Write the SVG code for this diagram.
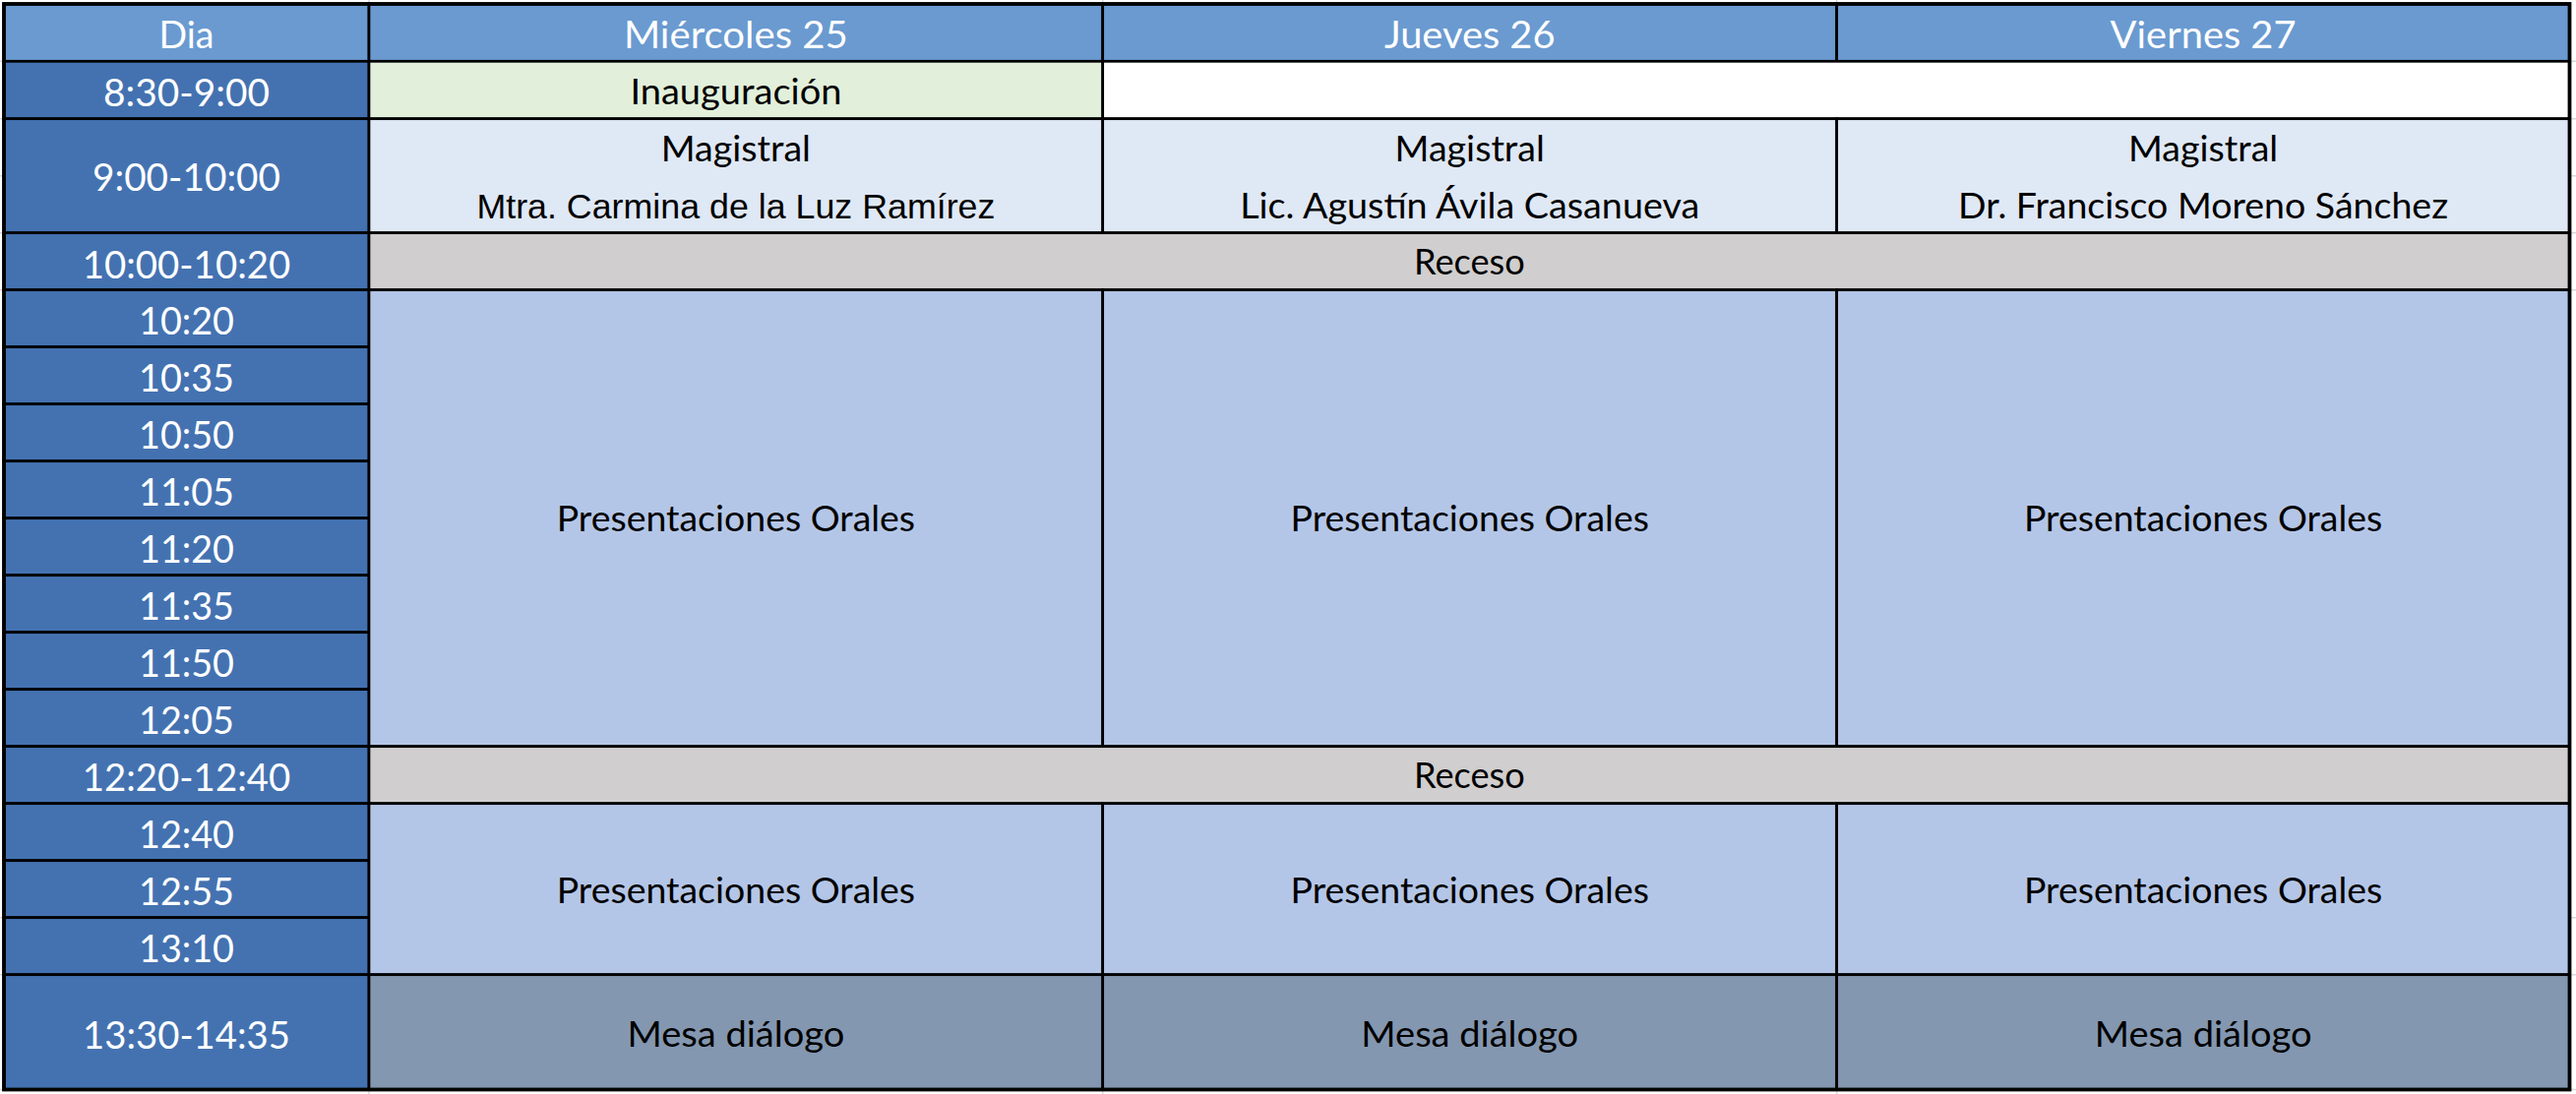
<svg xmlns="http://www.w3.org/2000/svg" width="2618" height="1112" viewBox="0 0 2618 1112">
<style>
.grid{stroke:#D9D9D9;stroke-width:1.5;fill:none}
.cell{stroke:#000;stroke-width:2.7}
.hd{fill:#6A9AD0}
.tm{fill:#4472B1}
.gr{fill:#E2EFDA}
.wh{fill:#FFFFFF}
.mg{fill:#DFE8F5}
.rc{fill:#D0CECE}
.pr{fill:#B4C6E7}
.ms{fill:#8497B0}
.tw{font-family:Lato,"Open Sans","Noto Sans",sans-serif;font-size:38.5px;fill:#FFFFFF;text-anchor:middle}
.tb{font-family:Lato,"Open Sans","Noto Sans",sans-serif;font-size:36px;fill:#000000;text-anchor:middle}
.ta{font-family:"Liberation Sans",Arial,sans-serif;font-size:34.5px;fill:#000000;text-anchor:middle}
</style>
<rect x="0" y="0" width="2618" height="1112" fill="#FFFFFF"/>
<g id="spreadsheet-gridlines" class="grid">
<path d="M0 62.3H2618M0 120.7H2618M0 178.7H2618M0 236.7H2618M0 294.7H2618M0 932.7H2618M0 990.7H2618M0 1107.5H2618M375 0V1112M1120.7 0V1112M1866.7 0V1112"/>
</g>
<g id="header">
<g id="h-dia"><rect class="cell hd" x="4" y="4" width="371" height="58.3"/><text class="tw" x="189.5" y="49.3" textLength="56" lengthAdjust="spacingAndGlyphs">Dia</text></g>
<g id="h-mie"><rect class="cell hd" x="375" y="4" width="745.7" height="58.3"/><text class="tw" x="747.9" y="49.3" textLength="228" lengthAdjust="spacingAndGlyphs">Miércoles 25</text></g>
<g id="h-jue"><rect class="cell hd" x="1120.7" y="4" width="746" height="58.3"/><text class="tw" x="1493.7" y="49.3" textLength="173.6" lengthAdjust="spacingAndGlyphs">Jueves 26</text></g>
<g id="h-vie"><rect class="cell hd" x="1866.7" y="4" width="744.8" height="58.3"/><text class="tw" x="2239.1" y="49.3" textLength="189" lengthAdjust="spacingAndGlyphs">Viernes 27</text></g>
</g>
<g id="times">
<g id="t-0830"><rect class="cell tm" x="4" y="62.3" width="371" height="58.4"/><text class="tw" x="189.5" y="108.3" textLength="169" lengthAdjust="spacingAndGlyphs">8:30-9:00</text></g>
<g id="t-0900"><rect class="cell tm" x="4" y="120.7" width="371" height="116"/><text class="tw" x="189.5" y="194" textLength="191" lengthAdjust="spacingAndGlyphs">9:00-10:00</text></g>
<g id="t-1000"><rect class="cell tm" x="4" y="236.7" width="371" height="58"/><text class="tw" x="189.5" y="282.7" textLength="211.6" lengthAdjust="spacingAndGlyphs">10:00-10:20</text></g>
<g id="t-1020"><rect class="cell tm" x="4" y="294.7" width="371" height="58"/><text class="tw" x="189.5" y="340" textLength="97" lengthAdjust="spacingAndGlyphs">10:20</text></g>
<g id="t-1035"><rect class="cell tm" x="4" y="352.7" width="371" height="58"/><text class="tw" x="189.5" y="398" textLength="97" lengthAdjust="spacingAndGlyphs">10:35</text></g>
<g id="t-1050"><rect class="cell tm" x="4" y="410.7" width="371" height="58"/><text class="tw" x="189.5" y="456" textLength="97" lengthAdjust="spacingAndGlyphs">10:50</text></g>
<g id="t-1105"><rect class="cell tm" x="4" y="468.7" width="371" height="58"/><text class="tw" x="189.5" y="514" textLength="97" lengthAdjust="spacingAndGlyphs">11:05</text></g>
<g id="t-1120"><rect class="cell tm" x="4" y="526.7" width="371" height="58"/><text class="tw" x="189.5" y="572" textLength="97" lengthAdjust="spacingAndGlyphs">11:20</text></g>
<g id="t-1135"><rect class="cell tm" x="4" y="584.7" width="371" height="58"/><text class="tw" x="189.5" y="630" textLength="97" lengthAdjust="spacingAndGlyphs">11:35</text></g>
<g id="t-1150"><rect class="cell tm" x="4" y="642.7" width="371" height="58"/><text class="tw" x="189.5" y="688" textLength="97" lengthAdjust="spacingAndGlyphs">11:50</text></g>
<g id="t-1205"><rect class="cell tm" x="4" y="700.7" width="371" height="58"/><text class="tw" x="189.5" y="746" textLength="97" lengthAdjust="spacingAndGlyphs">12:05</text></g>
<g id="t-1220"><rect class="cell tm" x="4" y="758.7" width="371" height="58"/><text class="tw" x="189.5" y="804" textLength="211.6" lengthAdjust="spacingAndGlyphs">12:20-12:40</text></g>
<g id="t-1240"><rect class="cell tm" x="4" y="816.7" width="371" height="58"/><text class="tw" x="189.5" y="862" textLength="97" lengthAdjust="spacingAndGlyphs">12:40</text></g>
<g id="t-1255"><rect class="cell tm" x="4" y="874.7" width="371" height="58"/><text class="tw" x="189.5" y="920" textLength="97" lengthAdjust="spacingAndGlyphs">12:55</text></g>
<g id="t-1310"><rect class="cell tm" x="4" y="932.7" width="371" height="58"/><text class="tw" x="189.5" y="978" textLength="97" lengthAdjust="spacingAndGlyphs">13:10</text></g>
<g id="t-1330"><rect class="cell tm" x="4" y="990.7" width="371" height="116.8"/><text class="tw" x="189.5" y="1066" textLength="211" lengthAdjust="spacingAndGlyphs">13:30-14:35</text></g>
</g>
<g id="row-0830">
<g id="inauguracion"><rect class="cell gr" x="375" y="62.3" width="745.7" height="58.4"/><text class="tb" x="747.9" y="106" textLength="215" lengthAdjust="spacingAndGlyphs">Inauguración</text></g>
<g id="blank-0830"><rect class="cell wh" x="1120.7" y="62.3" width="1490.8" height="58.4"/></g>
</g>
<g id="row-0900">
<g id="magistral-mie"><rect class="cell mg" x="375" y="120.7" width="745.7" height="116"/><text class="tb" x="747.9" y="164" textLength="152.2" lengthAdjust="spacingAndGlyphs">Magistral</text><text class="ta" x="747.9" y="221.7" textLength="527" lengthAdjust="spacingAndGlyphs">Mtra. Carmina de la Luz Ramírez</text></g>
<g id="magistral-jue"><rect class="cell mg" x="1120.7" y="120.7" width="746" height="116"/><text class="tb" x="1493.7" y="164" textLength="152.2" lengthAdjust="spacingAndGlyphs">Magistral</text><text class="tb" x="1493.7" y="221.7" textLength="467" lengthAdjust="spacingAndGlyphs">Lic. Agustín Ávila Casanueva</text></g>
<g id="magistral-vie"><rect class="cell mg" x="1866.7" y="120.7" width="744.8" height="116"/><text class="tb" x="2239.1" y="164" textLength="152.2" lengthAdjust="spacingAndGlyphs">Magistral</text><text class="tb" x="2239.1" y="221.7" textLength="498" lengthAdjust="spacingAndGlyphs">Dr. Francisco Moreno Sánchez</text></g>
</g>
<g id="receso-1"><rect class="cell rc" x="375" y="236.7" width="2236.5" height="58"/><text class="tb" x="1493.3" y="279.3" textLength="112.7" lengthAdjust="spacingAndGlyphs">Receso</text></g>
<g id="presentaciones-1">
<g id="pres1-mie"><rect class="cell pr" x="375" y="294.7" width="745.7" height="464"/><text class="tb" x="747.9" y="540" textLength="364.4" lengthAdjust="spacingAndGlyphs">Presentaciones Orales</text></g>
<g id="pres1-jue"><rect class="cell pr" x="1120.7" y="294.7" width="746" height="464"/><text class="tb" x="1493.7" y="540" textLength="364.4" lengthAdjust="spacingAndGlyphs">Presentaciones Orales</text></g>
<g id="pres1-vie"><rect class="cell pr" x="1866.7" y="294.7" width="744.8" height="464"/><text class="tb" x="2239.1" y="540" textLength="364.4" lengthAdjust="spacingAndGlyphs">Presentaciones Orales</text></g>
</g>
<g id="receso-2"><rect class="cell rc" x="375" y="758.7" width="2236.5" height="58"/><text class="tb" x="1493.3" y="801.3" textLength="112.7" lengthAdjust="spacingAndGlyphs">Receso</text></g>
<g id="presentaciones-2">
<g id="pres2-mie"><rect class="cell pr" x="375" y="816.7" width="745.7" height="174"/><text class="tb" x="747.9" y="918.3" textLength="364.4" lengthAdjust="spacingAndGlyphs">Presentaciones Orales</text></g>
<g id="pres2-jue"><rect class="cell pr" x="1120.7" y="816.7" width="746" height="174"/><text class="tb" x="1493.7" y="918.3" textLength="364.4" lengthAdjust="spacingAndGlyphs">Presentaciones Orales</text></g>
<g id="pres2-vie"><rect class="cell pr" x="1866.7" y="816.7" width="744.8" height="174"/><text class="tb" x="2239.1" y="918.3" textLength="364.4" lengthAdjust="spacingAndGlyphs">Presentaciones Orales</text></g>
</g>
<g id="mesa">
<g id="mesa-mie"><rect class="cell ms" x="375" y="990.7" width="745.7" height="116.8"/><text class="tb" x="747.9" y="1064" textLength="220.7" lengthAdjust="spacingAndGlyphs">Mesa diálogo</text></g>
<g id="mesa-jue"><rect class="cell ms" x="1120.7" y="990.7" width="746" height="116.8"/><text class="tb" x="1493.7" y="1064" textLength="220.7" lengthAdjust="spacingAndGlyphs">Mesa diálogo</text></g>
<g id="mesa-vie"><rect class="cell ms" x="1866.7" y="990.7" width="744.8" height="116.8"/><text class="tb" x="2239.1" y="1064" textLength="220.7" lengthAdjust="spacingAndGlyphs">Mesa diálogo</text></g>
</g>
<g id="outer-border"><rect x="4" y="4" width="2607.5" height="1103.5" fill="none" stroke="#000" stroke-width="3.8"/></g>
</svg>
